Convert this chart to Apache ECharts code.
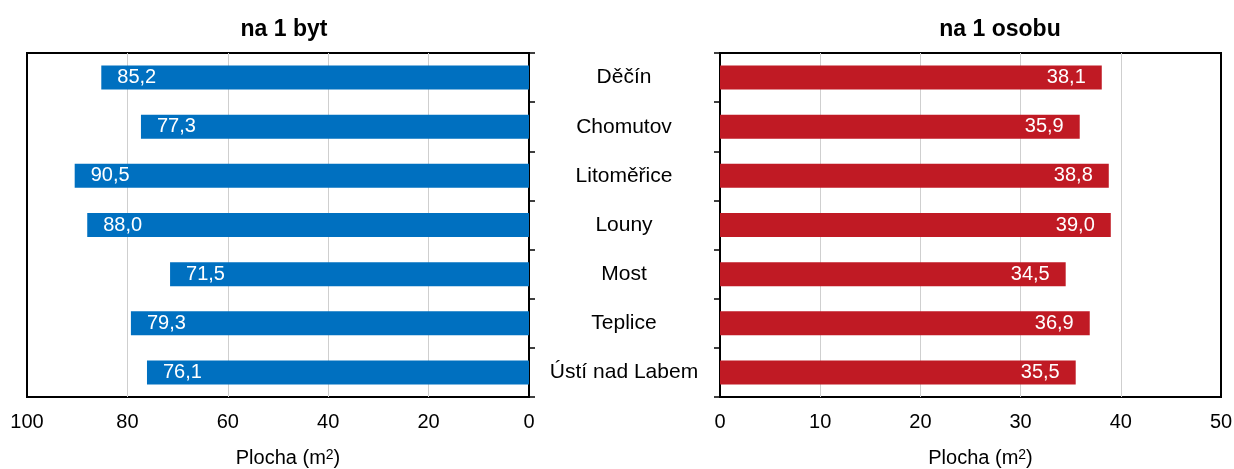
<!DOCTYPE html>
<html>
<head>
<meta charset="utf-8">
<script src="https://cdn.jsdelivr.net/npm/echarts@6/dist/echarts.min.js"></script>
<style>
  html, body { margin: 0; padding: 0; background: #fff; }
  #chart { width: 1234px; height: 469px; }
</style>
</head>
<body>
<div id="chart"></div>
<script>
// okresy Ústeckého kraje - obytná plocha
var categories = ['Děčín', 'Chomutov', 'Litoměřice', 'Louny', 'Most', 'Teplice', 'Ústí nad Labem']
var perFlat = [85.2, 77.3, 90.5, 88.0, 71.5, 79.3, 76.1]      // na 1 byt
var perPerson = [38.1, 35.9, 38.8, 39.0, 34.5, 36.9, 35.5]    // na 1 osobu
var leftTicks = [0, 20, 40, 60, 80, 100]
var rightTicks = [0, 10, 20, 30, 40, 50]
var titles = ['na 1 byt', 'na 1 osobu']
var axisName = 'Plocha (m{sup|2})'

var font = 'Arial, "Liberation Sans", sans-serif'
var fmt = function (p) { return p.value.toFixed(1).replace('.', ',') }

var chart = echarts.init(document.getElementById('chart'))

function xAxisFor(idx, ticks, inverse) {
  return {
    type: 'value',
    gridIndex: idx,
    min: ticks[0],
    max: ticks[ticks.length - 1],
    interval: ticks[1] - ticks[0],
    inverse: inverse,
    axisLine: { show: false },
    axisTick: { show: false },
    axisLabel: { color: '#000', fontSize: 20, fontFamily: font, margin: 15 },
    splitLine: { showMinLine: false, showMaxLine: false, lineStyle: { color: '#cfcfcf', width: 1 } },
    name: axisName,
    nameLocation: 'middle',
    nameGap: 51,
    nameTextStyle: {
      color: '#000', fontSize: 20, fontFamily: font, padding: [0, 0, 0, 20],
      rich: { sup: { fontSize: 14, fontFamily: font, color: '#000', verticalAlign: 'top', lineHeight: 12 } }
    }
  }
}

chart.setOption({
  animation: false,
  title: [
    { text: titles[0], left: 279, top: 13, textAlign: 'center',
      textStyle: { fontSize: 23, fontWeight: 'bold', color: '#000', fontFamily: font } },
    { text: titles[1], left: 995, top: 13, textAlign: 'center',
      textStyle: { fontSize: 23, fontWeight: 'bold', color: '#000', fontFamily: font } }
  ],
  grid: [
    { left: 27, top: 53, width: 502, height: 344, show: true, borderColor: '#000', borderWidth: 2,
      containLabel: false, outerBoundsMode: 'none' },
    { left: 720, top: 53, width: 501, height: 344, show: true, borderColor: '#000', borderWidth: 2,
      containLabel: false, outerBoundsMode: 'none' }
  ],
  xAxis: [
    xAxisFor(0, leftTicks, true),
    xAxisFor(1, rightTicks, false)
  ],
  yAxis: [
    {
      type: 'category',
      gridIndex: 0,
      position: 'right',
      inverse: true,
      data: categories,
      axisLine: { lineStyle: { color: '#000', width: 2 } },
      axisTick: { show: true, length: 6, lineStyle: { color: '#000', width: 1.5 } },
      axisLabel: { color: '#000', fontSize: 21, fontFamily: font, align: 'center', margin: 95 }
    },
    {
      type: 'category',
      gridIndex: 1,
      position: 'left',
      inverse: true,
      data: categories,
      axisLine: { lineStyle: { color: '#000', width: 2 } },
      axisTick: { show: true, length: 6, lineStyle: { color: '#000', width: 1.5 } },
      axisLabel: { show: false }
    }
  ],
  series: [
    {
      name: titles[0],
      type: 'bar',
      xAxisIndex: 0,
      yAxisIndex: 0,
      data: perFlat,
      barWidth: 24,
      itemStyle: { color: '#0070c0' },
      label: { show: true, position: 'insideLeft', distance: 16, color: '#fff',
        fontSize: 20, fontFamily: font, formatter: fmt }
    },
    {
      name: titles[1],
      type: 'bar',
      xAxisIndex: 1,
      yAxisIndex: 1,
      data: perPerson,
      barWidth: 24,
      itemStyle: { color: '#c01a24' },
      label: { show: true, position: 'insideRight', distance: 16, color: '#fff',
        fontSize: 20, fontFamily: font, formatter: fmt }
    }
  ]
})
</script>
</body>
</html>
